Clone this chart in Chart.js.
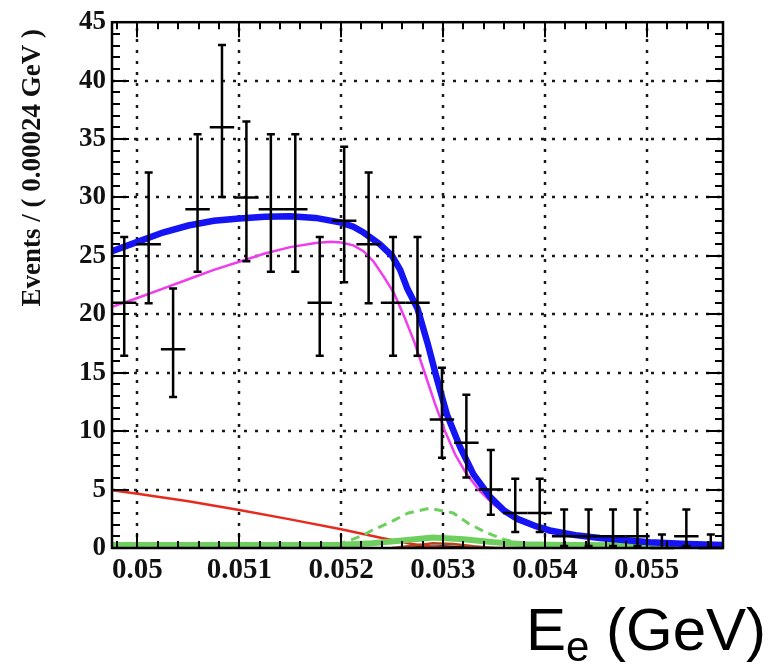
<!DOCTYPE html>
<html>
<head>
<meta charset="utf-8">
<script src="https://cdn.jsdelivr.net/npm/chart.js@4.4.0/dist/chart.umd.min.js"></script>
<style>
html,body{margin:0;padding:0;background:#ffffff;}
#wrap{width:769px;height:664px;position:relative;}
</style>
</head>
<body>
<div id="wrap"><canvas id="c" width="769" height="664"></canvas></div>
<script>
// ---------------- data ----------------
const binCenters = [0.04987,0.05011,0.05035,0.05059,0.05083,0.05107,0.05131,0.05155,0.05179,0.05203,
                    0.05227,0.05251,0.05275,0.05299,0.05323,0.05347,0.05371,0.05395,0.05419,0.05443,
                    0.05467,0.05491,0.05515,0.05539,0.05563];
const binHalfWidth = 0.00012;
const counts  = [21,26,17,29,36,30,29,29,21,28,26,21,21,11,9,5,3,3,1,1,1,1,0,1,0];
const errLow  = [4.55,5.06,4.08,5.35,5.97,5.45,5.35,5.35,4.55,5.26,5.06,4.55,4.55,3.28,2.96,2.16,1.63,1.63,0.83,0.83,0.83,0.83,0,0.83,0];
const errHigh = [5.62,6.14,5.20,6.42,7.04,6.51,6.42,6.42,5.62,6.33,6.14,5.62,5.62,4.42,4.11,3.38,2.92,2.92,2.30,2.30,2.30,2.30,1.15,2.30,1.15];

const totalFit = [[0.04975,25.4],[0.0500,26.2],[0.05025,27.0],[0.0505,27.6],[0.05075,28.0],[0.0510,28.2],
  [0.05125,28.35],[0.0515,28.4],[0.05175,28.25],[0.0520,27.85],[0.05212,27.5],[0.05222,27.0],[0.05238,26.0],
  [0.0525,25.0],[0.05258,23.8],[0.05265,22.2],[0.05275,20.5],[0.05285,17.5],[0.05294,14.5],[0.05304,11.4],
  [0.05317,8.6],[0.0533,6.3],[0.05346,4.4],[0.0536,3.2],[0.05373,2.5],[0.0539,1.9],[0.05405,1.5],
  [0.0543,1.1],[0.05454,0.85],[0.05503,0.5],[0.0554,0.35],[0.05575,0.25]];

const signalFit = [[0.04975,20.65],[0.0500,21.4],[0.05025,22.2],[0.0505,23.0],[0.05075,23.8],[0.0510,24.5],
  [0.05125,25.2],[0.0515,25.75],[0.05175,26.1],[0.0519,26.2],[0.0520,26.15],[0.05212,25.9],[0.05222,25.4],
  [0.05232,24.5],[0.05242,23.2],[0.05252,21.8],[0.05262,19.8],[0.05272,17.6],[0.05282,15.0],[0.05292,12.4],
  [0.05302,10.0],[0.05312,8.0],[0.05322,6.5],[0.05335,5.0],[0.0535,3.7],[0.05373,2.3],[0.05405,1.3],
  [0.05454,0.75],[0.05503,0.45],[0.05575,0.22]];

const bkgLinear = [[0.04975,4.95],[0.0500,4.65],[0.0505,4.0],[0.0510,3.25],[0.0515,2.45],[0.0520,1.6],
  [0.0524,0.85],[0.0527,0.35],[0.0529,0.08],[0.0531,0.0],[0.05575,0.0]];

const peakDashed = [[0.04975,0.0],[0.0518,0.05],[0.0520,0.4],[0.0521,0.7],[0.05222,1.1],[0.0523,1.5],
  [0.05248,2.2],[0.05266,3.0],[0.05287,3.4],[0.0531,3.0],[0.05325,2.1],[0.05343,1.3],[0.05361,0.7],
  [0.0538,0.3],[0.054,0.1],[0.0543,0.02],[0.05575,0.0]];

const peakSolid = [[0.04975,0.25],[0.0515,0.25],[0.052,0.28],[0.0523,0.4],[0.0526,0.65],[0.0529,0.9],
  [0.0532,0.75],[0.0535,0.5],[0.0538,0.32],[0.0542,0.25],[0.05575,0.22]];

const peakSmall = [[0.0525,0.0],[0.0527,0.2],[0.0529,0.4],[0.0531,0.35],[0.0533,0.15],[0.0535,0.0]];

const baseBlack = [[0.04975,0.0],[0.0526,0.0],[0.0528,0.1],[0.053,0.15],[0.0532,0.08],[0.0534,0.0],[0.05575,0.0]];

const xTicks = [0.050,0.051,0.052,0.053,0.054,0.055];
const xTickLabels = ['0.05','0.051','0.052','0.053','0.054','0.055'];
const yTicks = [0,5,10,15,20,25,30,35,40,45];
const yTickLabels = ['0','5','10','15','20','25','30','35','40','45'];
const xRange = [0.04975, 0.05575];
const yRange = [0, 45];
const yTitle = 'Events / ( 0.00024 GeV )';
const xTitleMain = 'E', xTitleSub = 'e', xTitleRest = ' (GeV)';

// ---------------- styling ----------------
const C_BLUE = '#1414f5', C_MAG = '#ee3cee', C_RED = '#e62a1e', C_GREEN = '#6fcf5e', C_DRED = '#b4461e';
const SERIF = "'Liberation Serif','Times New Roman',serif";

const toXY = arr => arr.map(p => ({x: p[0], y: p[1]}));
function lineDs(arr, color, width, dash) {
  return {data: toXY(arr), showLine: true, borderColor: color, borderWidth: width,
          borderDash: dash || [], pointRadius: 0, tension: 0, fill: false};
}

const rootPlugin = {
  id: 'rootStyle',
  beforeDatasetsDraw(chart) {
    const {ctx, chartArea: a, scales: {x, y}} = chart;
    ctx.save();
    ctx.strokeStyle = '#1a1a1a';
    ctx.lineWidth = 2.5;
    ctx.setLineDash([3, 8]);
    for (const v of xTicks) {
      const px = Math.round(x.getPixelForValue(v));
      ctx.beginPath(); ctx.moveTo(px, a.bottom); ctx.lineTo(px, a.top); ctx.stroke();
    }
    for (const v of yTicks) {
      if (v === yRange[0] || v === yRange[1]) continue;
      const py = Math.round(y.getPixelForValue(v));
      ctx.beginPath(); ctx.moveTo(a.left, py); ctx.lineTo(a.right, py); ctx.stroke();
    }
    ctx.restore();
  },
  afterDatasetsDraw(chart) {
    const {ctx, chartArea: a, scales: {x, y}} = chart;
    ctx.save();
    // error bars
    ctx.strokeStyle = '#000';
    ctx.lineWidth = 2.5;
    ctx.setLineDash([]);
    const cap = 4;
    for (let i = 0; i < binCenters.length; i++) {
      const xc = x.getPixelForValue(binCenters[i]);
      const x0 = x.getPixelForValue(binCenters[i] - binHalfWidth);
      const x1 = x.getPixelForValue(binCenters[i] + binHalfWidth);
      const yc = y.getPixelForValue(counts[i]);
      const ylo = y.getPixelForValue(counts[i] - errLow[i]);
      const yhi = y.getPixelForValue(counts[i] + errHigh[i]);
      ctx.beginPath();
      ctx.moveTo(x0, yc); ctx.lineTo(x1, yc);
      ctx.moveTo(xc, ylo); ctx.lineTo(xc, yhi);
      ctx.moveTo(xc - cap, yhi); ctx.lineTo(xc + cap, yhi);
      if (errLow[i] > 0) { ctx.moveTo(xc - cap, ylo); ctx.lineTo(xc + cap, ylo); }
      ctx.stroke();
    }
    // tick marks (inside, all sides)
    ctx.lineWidth = 2;
    const majX = 15, minX = 7, majY = 17, minY = 8;
    ctx.beginPath();
    for (let k = 249; k <= 278; k++) {
      const v = k * 0.0002;
      const px = Math.round(x.getPixelForValue(v));
      const L = (k % 5 === 0) ? majX : minX;
      ctx.moveTo(px, a.bottom); ctx.lineTo(px, a.bottom - L);
      ctx.moveTo(px, a.top); ctx.lineTo(px, a.top + L);
    }
    for (let v = yRange[0]; v <= yRange[1]; v++) {
      const py = Math.round(y.getPixelForValue(v));
      const L = (v % 5 === 0) ? majY : minY;
      ctx.moveTo(a.left, py); ctx.lineTo(a.left + L, py);
      ctx.moveTo(a.right, py); ctx.lineTo(a.right - L, py);
    }
    ctx.stroke();
    // frame
    ctx.lineWidth = 2.5;
    ctx.strokeRect(a.left, a.top, a.right - a.left, a.bottom - a.top);
    ctx.restore();
  },
  afterDraw(chart) {
    const {ctx} = chart;
    ctx.save();
    ctx.fillStyle = '#000';
    // x-axis title with subscript
    ctx.textBaseline = 'alphabetic';
    ctx.textAlign = 'left';
    const fMain = "60px 'Liberation Sans', Arial, sans-serif";
    const fSub = "42px 'Liberation Sans', Arial, sans-serif";
    ctx.font = fMain;
    const wE = ctx.measureText(xTitleMain).width;
    const wR = ctx.measureText(xTitleRest).width;
    ctx.font = fSub;
    const wS = ctx.measureText(xTitleSub).width;
    const right = 766, base = 650;
    let xs = right - (wE + wS + wR);
    ctx.font = fMain; ctx.fillText(xTitleMain, xs, base); xs += wE;
    ctx.font = fSub; ctx.fillText(xTitleSub, xs, base + 11); xs += wS;
    ctx.font = fMain; ctx.fillText(xTitleRest, xs, base);
    // y-axis title (rotated, top aligned like ROOT)
    ctx.fillStyle = '#111';
    ctx.font = "bold 27px " + SERIF;
    ctx.translate(33, 29);
    ctx.rotate(-Math.PI / 2);
    ctx.textAlign = 'right';
    ctx.textBaseline = 'middle';
    ctx.fillText(yTitle, 0, 0);
    ctx.restore();
  }
};

new Chart(document.getElementById('c'), {
  type: 'scatter',
  data: {
    datasets: [
      lineDs(totalFit, C_BLUE, 6.5),
      lineDs(signalFit, C_MAG, 2.5),
      lineDs(peakDashed, C_GREEN, 3, [9, 6]),
      lineDs(peakSolid, C_GREEN, 6),
      lineDs(peakSmall, C_DRED, 2.5),
      lineDs(bkgLinear, C_RED, 2.5),
      lineDs(baseBlack, '#000', 2)
    ]
  },
  options: {
    responsive: false,
    animation: false,
    layout: {padding: {left: 0, right: 46, top: 22, bottom: 0}},
    plugins: {legend: {display: false}, tooltip: {enabled: false}},
    scales: {
      x: {
        type: 'linear', min: xRange[0], max: xRange[1],
        grid: {display: false, drawTicks: false}, border: {display: false},
        afterBuildTicks: s => { s.ticks = xTicks.map(v => ({value: v})); },
        afterFit: s => { s.height = 116; },
        ticks: {font: {family: SERIF, weight: 'bold', size: 29}, color: '#111', padding: 5,
                maxRotation: 0, minRotation: 0, autoSkip: false, includeBounds: false,
                callback: (v, i) => xTickLabels[i]}
      },
      y: {
        type: 'linear', min: yRange[0], max: yRange[1],
        grid: {display: false, drawTicks: false}, border: {display: false},
        afterBuildTicks: s => { s.ticks = yTicks.map(v => ({value: v})); },
        afterFit: s => { s.width = 112; },
        ticks: {font: {family: SERIF, weight: 'bold', size: 27}, color: '#111', padding: 6,
                autoSkip: false, includeBounds: false, callback: (v, i) => yTickLabels[i]},
        title: {display: false}
      }
    }
  },
  plugins: [rootPlugin]
});
</script>
</body>
</html>
